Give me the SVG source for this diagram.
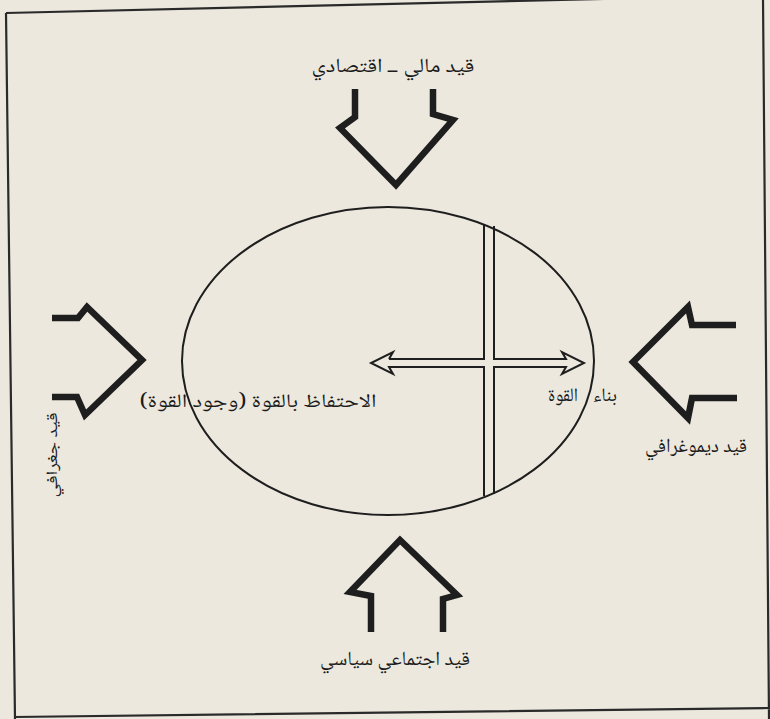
<svg xmlns="http://www.w3.org/2000/svg" width="770" height="719" viewBox="0 0 770 719">
<style>
.bg{fill:#ece8dd}
.frame{fill:none;stroke:#2a2a2a;stroke-width:2.2}
.big{fill:none;stroke:#1e1e1e;stroke-width:6.5;stroke-linejoin:miter;stroke-miterlimit:6;stroke-linecap:butt}
.thin{fill:none;stroke:#1e1e1e;stroke-width:2}
.lbl{font-family:"Noto Naskh Arabic","Noto Sans Arabic","DejaVu Sans",sans-serif;fill:#1a1a1a;direction:rtl}
</style>
<rect class="bg" x="0" y="0" width="770" height="719"/>
<path class="frame" d="M6,13 L770,-5 M6,13 L15,719 M14,717 L770,708 M763,-2 L769,719"/>
<g id="core">
  <ellipse class="thin" cx="388" cy="361" rx="206" ry="154"/>
</g>
<g id="connectors">
  <path class="thin" d="M389,359 L484,359 L484,225 M494,226 L494,359 L566,359 L562,352 L584,363 L562,374 L566,367 L494,367 L494,494 M484,496 L484,367 L389,367 L393,374 L371,363 L393,352 L389,359"/>
</g>
<g id="arrow-top">
  <polyline class="big" points="355,89 355,117 340,128 396,185 453,120 433,114 433,89"/>
</g>
<g id="arrow-bottom">
  <polyline class="big" points="371,632 371,596 350,592 400,540 457,595 443,599 443,632"/>
</g>
<g id="arrow-left">
  <polyline class="big" points="52,318 78,318 87,307 142,360 85,415 77,397 52,397"/>
</g>
<g id="arrow-right">
  <polyline class="big" points="736,325 692,325 688,307 633,362 688,418 692,398 737,398"/>
</g>
<g id="label-top">
  <text class="lbl" x="393" y="72" font-size="20" text-anchor="middle" textLength="163" lengthAdjust="spacingAndGlyphs">قيد مالي ــ اقتصادي</text>
</g>
<g id="label-right">
  <text class="lbl" x="696" y="452" font-size="20" text-anchor="middle" textLength="102" lengthAdjust="spacingAndGlyphs">قيد ديموغرافي</text>
</g>
<g id="label-bottom">
  <text class="lbl" x="395" y="665" font-size="20" text-anchor="middle" textLength="150" lengthAdjust="spacingAndGlyphs">قيد اجتماعي سياسي</text>
</g>
<g id="label-keep">
  <text class="lbl" x="258" y="407" font-size="19" text-anchor="middle" textLength="237" lengthAdjust="spacingAndGlyphs">الاحتفاظ بالقوة (وجود القوة)</text>
</g>
<g id="label-build">
  <text class="lbl" x="605" y="401" font-size="19" text-anchor="middle" textLength="24" lengthAdjust="spacingAndGlyphs">بناء</text>
  <text class="lbl" x="563" y="401" font-size="19" text-anchor="middle" textLength="30" lengthAdjust="spacingAndGlyphs">القوة</text>
</g>
<g id="label-left">
  <text class="lbl" transform="translate(57,455) rotate(-90)" x="0" y="0" font-size="16" text-anchor="middle" textLength="85" lengthAdjust="spacingAndGlyphs">قيد جغرافي</text>
</g>
</svg>
